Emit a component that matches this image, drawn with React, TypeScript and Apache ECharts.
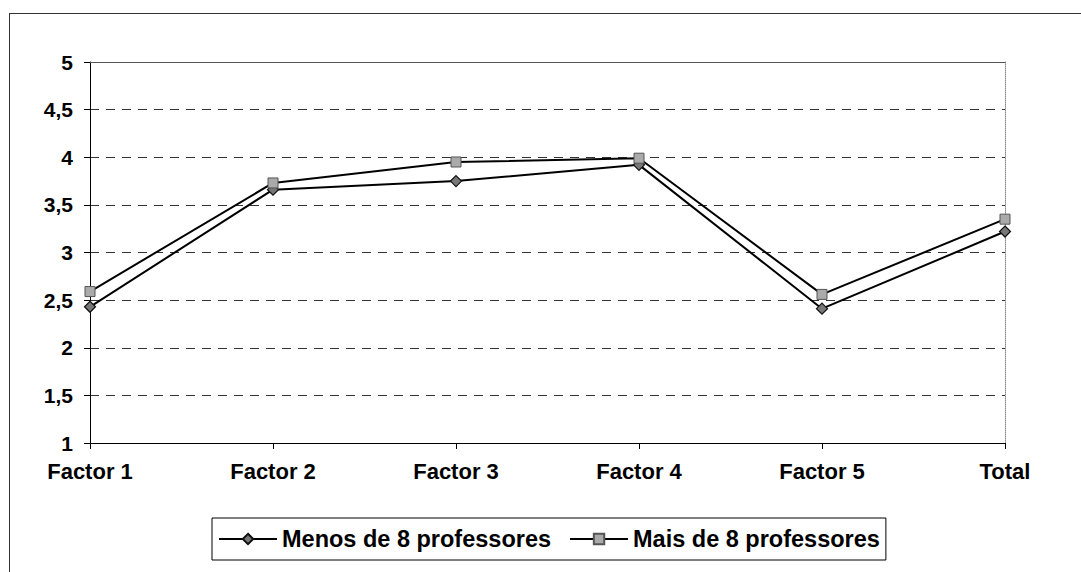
import React, { useEffect, useRef } from "react";
import * as echarts from "echarts";

const categories = ["Factor 1", "Factor 2", "Factor 3", "Factor 4", "Factor 5", "Total"];
const menosValues = [2.43, 3.66, 3.75, 3.92, 2.41, 3.22];
const maisValues = [2.59, 3.73, 3.95, 3.99, 2.56, 3.35];
const seriesNames = ["Menos de 8 professores", "Mais de 8 professores"];
const yMin = 1;
const yMax = 5;
const yStep = 0.5;

const FONT = "'Liberation Sans', Arial, sans-serif";

export default function App() {
  const ref = useRef<HTMLDivElement>(null);
  useEffect(() => {
    if (!ref.current) return;
    const chart = echarts.init(ref.current, null, { renderer: "svg" });
    chart.setOption({
      animation: false,
      backgroundColor: "#fff",
      textStyle: { fontFamily: FONT },
      grid: { left: 90, right: 76, top: 62, bottom: 129, containLabel: false },
      graphic: [
        {
          type: "line",
          shape: { x1: 9, y1: 13.5, x2: 1081, y2: 13.5 },
          style: { stroke: "#333", lineWidth: 1 },
          silent: true,
        },
        {
          type: "line",
          shape: { x1: 9.5, y1: 13, x2: 9.5, y2: 572 },
          style: { stroke: "#333", lineWidth: 1 },
          silent: true,
        },
      ],
      legend: {
        left: 212,
        top: 518,
        padding: [9, 6, 9, 6],
        itemGap: 18,
        itemWidth: 58,
        itemHeight: 13,
        borderColor: "#000",
        borderWidth: 1,
        backgroundColor: "#fff",
        textStyle: { fontFamily: FONT, fontSize: 23.5, fontWeight: "bold", color: "#000" },
        data: seriesNames,
      },
      xAxis: [
        {
          type: "category",
          data: categories,
          boundaryGap: false,
          axisLine: { lineStyle: { color: "#000", width: 1 } },
          axisTick: { show: true, length: 6, lineStyle: { color: "#000" } },
          axisLabel: {
            margin: 17,
            fontFamily: FONT,
            fontSize: 22,
            fontWeight: "bold",
            color: "#000",
            interval: 0,
          },
          splitLine: { show: false },
        },
        {
          type: "category",
          data: categories,
          boundaryGap: false,
          position: "top",
          axisLine: { lineStyle: { color: "#555", width: 1 } },
          axisTick: { show: false },
          axisLabel: { show: false },
          splitLine: { show: false },
        },
      ],
      yAxis: [
        {
          type: "value",
          min: yMin,
          max: yMax,
          interval: yStep,
          axisLine: { show: true, lineStyle: { color: "#000", width: 1 } },
          axisTick: { show: true, length: 6, lineStyle: { color: "#000" } },
          axisLabel: {
            margin: 17,
            fontFamily: FONT,
            fontSize: 21,
            fontWeight: "bold",
            color: "#000",
            formatter: (v: number) => String(v).replace(".", ","),
          },
          splitLine: {
            show: true,
            lineStyle: { color: "#333", type: [9, 7], width: 1 },
          },
        },
        {
          type: "value",
          min: yMin,
          max: yMax,
          interval: yStep,
          position: "right",
          axisLine: { show: true, lineStyle: { color: "#888", type: "dotted", width: 1 } },
          axisTick: { show: false },
          axisLabel: { show: false },
          splitLine: { show: false },
        },
      ],
      series: [
        {
          name: seriesNames[0],
          type: "line",
          data: menosValues,
          symbol: "diamond",
          symbolSize: 11,
          lineStyle: { color: "#000", width: 2 },
          itemStyle: { color: "#777", borderColor: "#111", borderWidth: 1.2 },
          z: 3,
        },
        {
          name: seriesNames[1],
          type: "line",
          data: maisValues,
          symbol: "rect",
          symbolSize: 10,
          lineStyle: { color: "#000", width: 2 },
          itemStyle: { color: "#aaa", borderColor: "#555", borderWidth: 1 },
          z: 4,
        },
      ],
    });
    return () => chart.dispose();
  }, []);
  return (
    <div
      ref={ref}
      style={{ position: "fixed", left: 0, top: 0, width: 1081, height: 572 }}
    />
  );
}
